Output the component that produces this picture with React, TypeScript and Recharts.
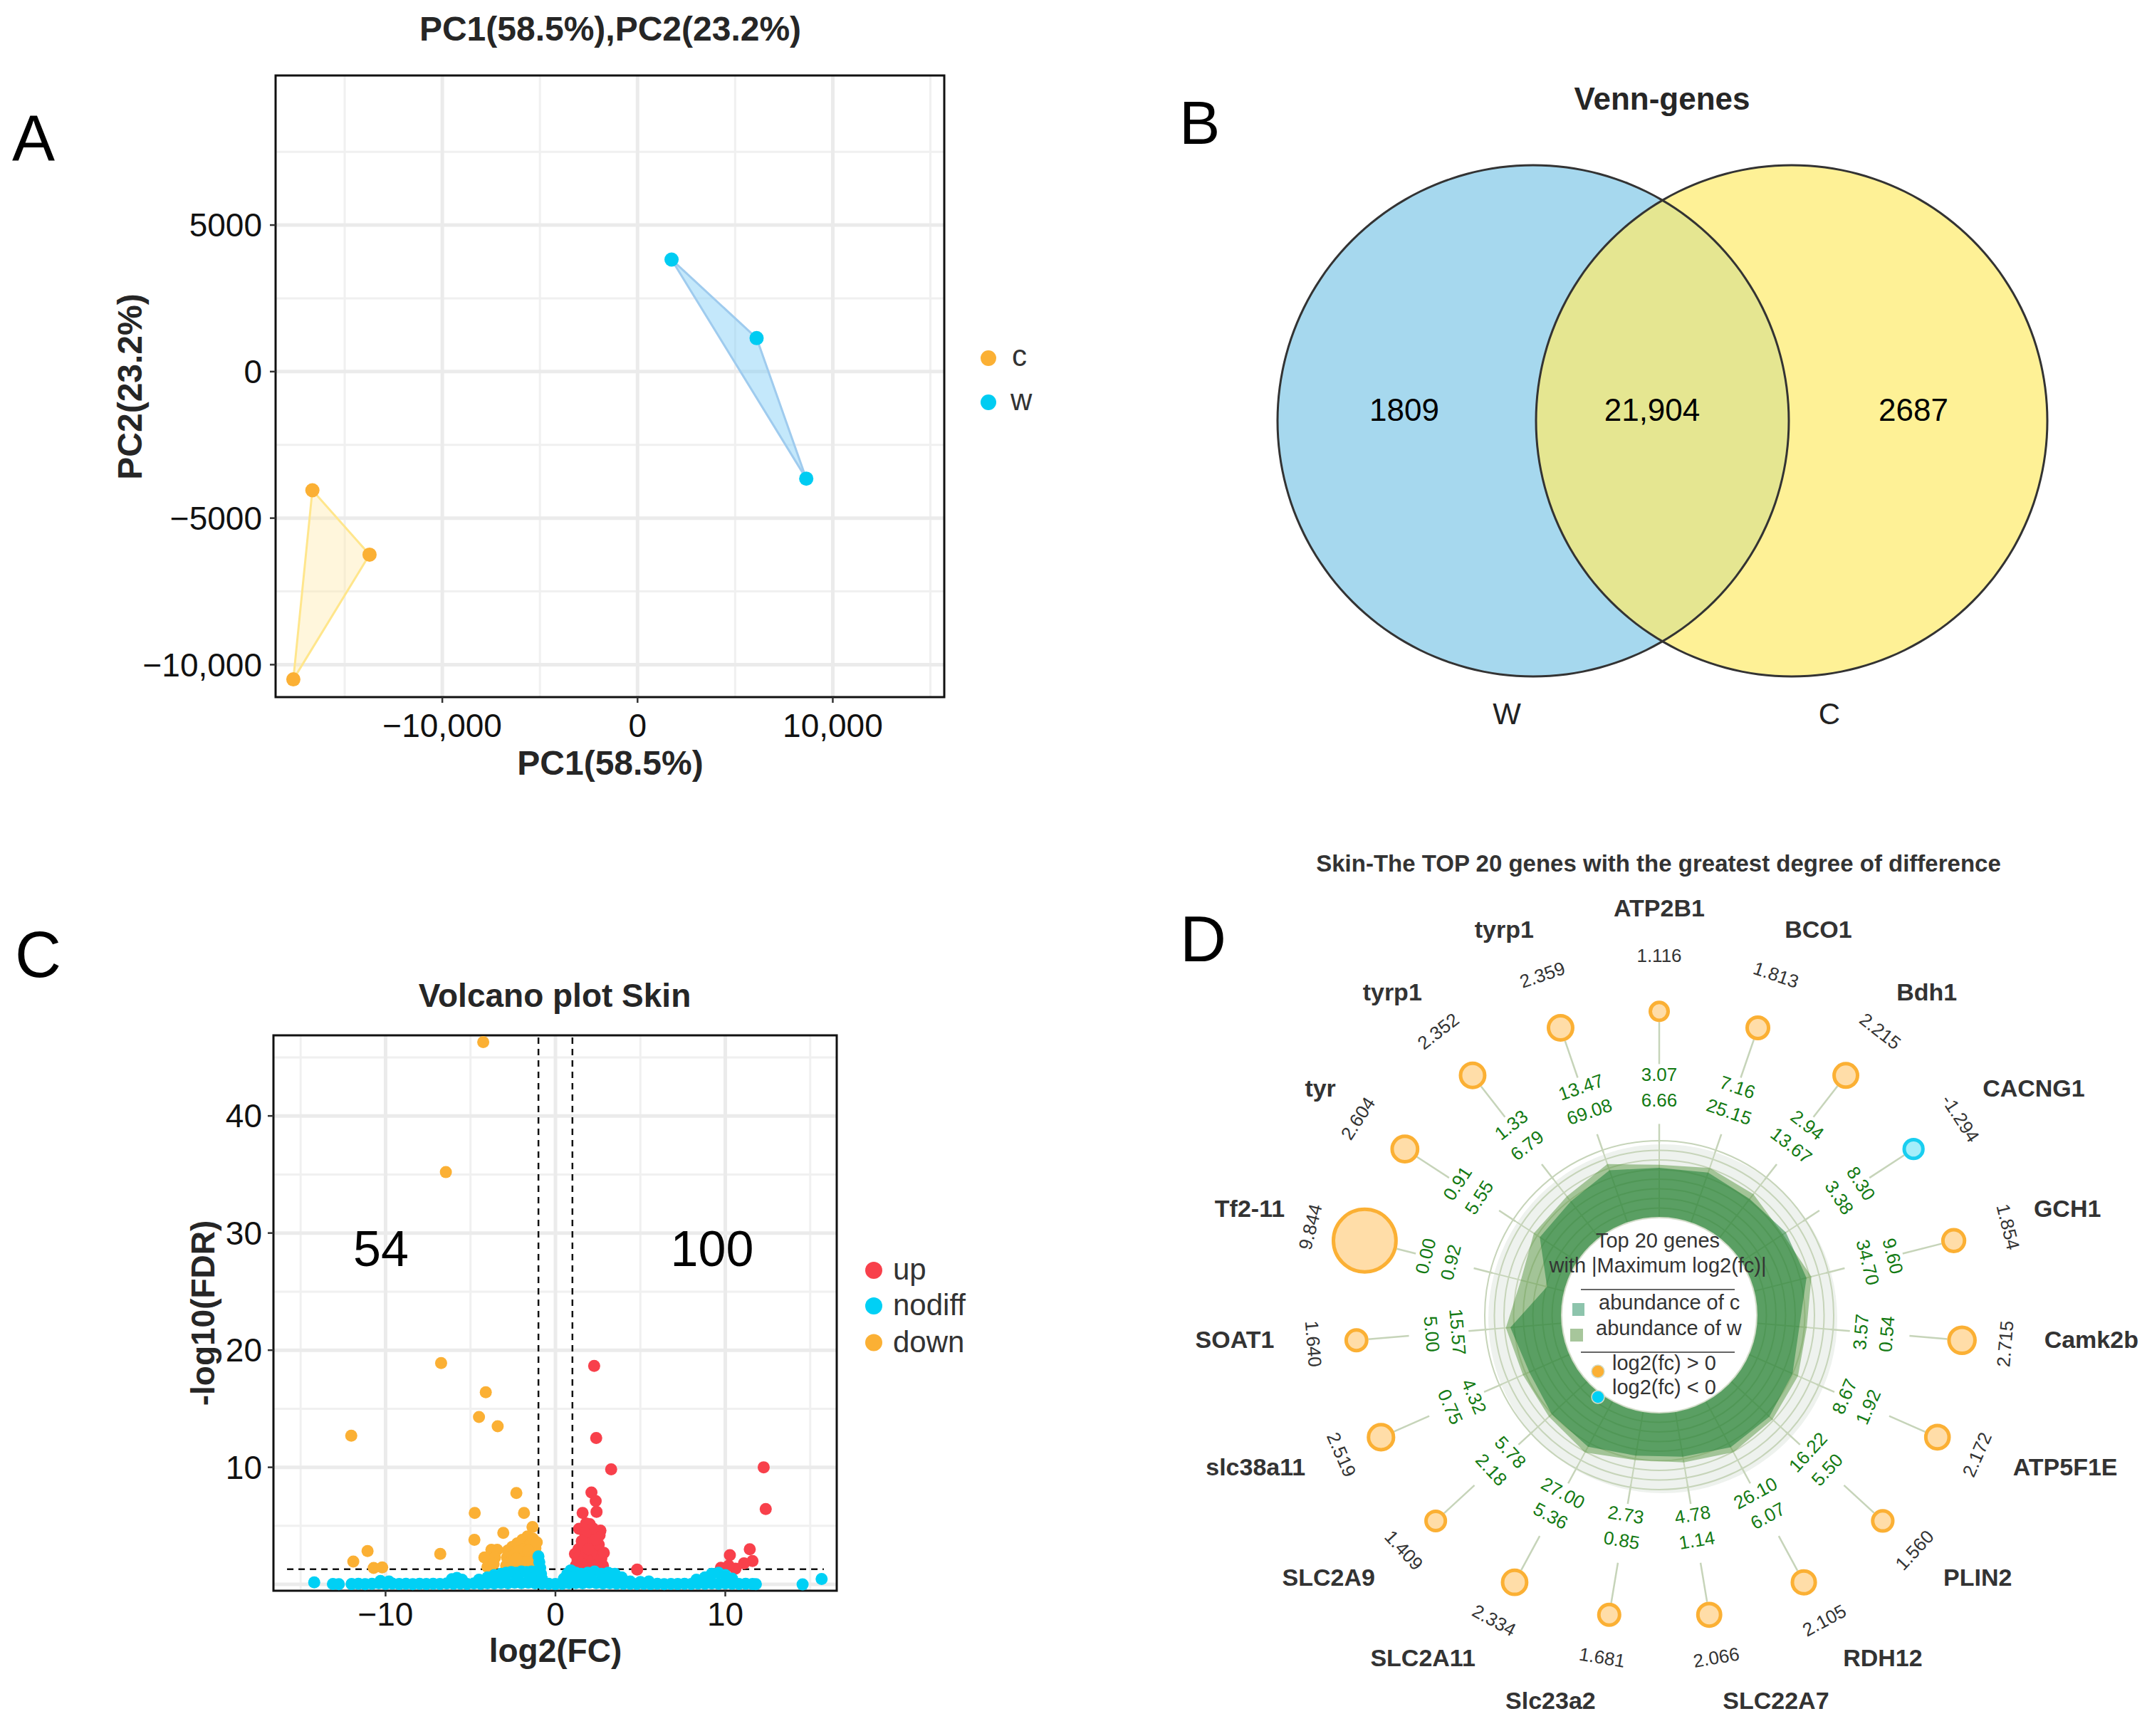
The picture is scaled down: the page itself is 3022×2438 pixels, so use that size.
import React from 'react';
import {
  ScatterChart, Scatter, XAxis, YAxis, CartesianGrid, ReferenceArea, ReferenceLine,
  PieChart, Pie, RadarChart, Radar, PolarGrid, PolarAngleAxis, PolarRadiusAxis,
} from 'recharts';

const FONT = '"Liberation Sans", Arial, Helvetica, sans-serif';
const TXT = '#262626';
const TICK = '#111111';
const ORANGE = '#FBB034';
const CYAN = '#00D0F5';
const RED = '#F8404B';

/* ---------------- Panel A : PCA ---------------- */
const pcaC = [{ x: -16655, y: -4048 }, { x: -13728, y: -6246 }, { x: -17631, y: -10502 }];
const pcaW = [{ x: 1742, y: 3824 }, { x: 6098, y: 1142 }, { x: 8641, y: -3651 }];
const pcaXTicks = [-10000, 0, 10000];
const pcaXTickLabels = ['\u221210,000', '0', '10,000'];
const pcaYTicks = [-10000, -5000, 0, 5000];
const pcaYTickLabels = ['\u221210,000', '\u22125000', '0', '5000'];
const pcaXMinor = [-15000, -5000, 5000, 15000];
const pcaYMinor = [-7500, -2500, 2500, 7500];
const pcaXDomain = [-18540, 15710];
const pcaYDomain = [-11107, 10104];

/* ---------------- Panel B : Venn ---------------- */
const vennSets = ['W', 'C'];
const vennOnly = [1809, 2687];
const vennShared = 21904;

/* ---------------- Panel C : Volcano ---------------- */
const volcanoDown = [
  { x: -4.25, y: 46.3 }, { x: -6.45, y: 35.2 }, { x: -6.73, y: 18.9 }, { x: -4.1, y: 16.4 }, { x: -4.5, y: 14.3 },
  { x: -3.4, y: 13.5 }, { x: -12.02, y: 12.7 }, { x: -2.3, y: 7.8 }, { x: -4.75, y: 6.1 }, { x: -1.85, y: 6.1 },
  { x: -1.35, y: 4.9 }, { x: -3.07, y: 4.4 }, { x: -4.77, y: 3.8 }, { x: -3.77, y: 2.95 }, { x: -3.43, y: 2.95 },
  { x: -4.18, y: 2.3 }, { x: -3.56, y: 2.3 }, { x: -4.0, y: 1.5 }, { x: -6.78, y: 2.6 }, { x: -11.06, y: 2.85 },
  { x: -11.9, y: 1.95 }, { x: -10.7, y: 1.4 }, { x: -10.2, y: 1.45 }, { x: -3.64, y: 1.75 },
  { x: -2.9, y: 1.6 }, { x: -2.85, y: 2.3 }, { x: -2.8, y: 2.9 }, { x: -2.65, y: 1.9 }, { x: -2.55, y: 3.2 },
  { x: -2.45, y: 2.5 }, { x: -2.35, y: 1.7 }, { x: -2.25, y: 3.5 }, { x: -2.15, y: 2.8 }, { x: -2.05, y: 2.1 },
  { x: -1.95, y: 3.8 }, { x: -1.85, y: 3.0 }, { x: -1.75, y: 2.4 }, { x: -1.65, y: 4.1 }, { x: -1.55, y: 1.8 },
  { x: -1.5, y: 3.4 }, { x: -1.42, y: 2.7 }, { x: -1.32, y: 3.9 }, { x: -1.25, y: 2.1 }, { x: -1.18, y: 3.1 },
  { x: -1.12, y: 1.6 }, { x: -1.08, y: 2.5 }, { x: -2.6, y: 1.5 }, { x: -2.0, y: 1.5 }, { x: -1.4, y: 1.5 },
  { x: -1.7, y: 1.9 }, { x: -2.3, y: 2.2 }, { x: -1.1, y: 3.6 }, { x: -1.6, y: 2.9 },
];
const volcanoUp = [
  { x: 2.28, y: 18.66 }, { x: 2.4, y: 12.5 }, { x: 3.28, y: 9.82 }, { x: 12.26, y: 10.0 }, { x: 12.38, y: 6.44 },
  { x: 2.12, y: 7.85 }, { x: 2.37, y: 7.12 }, { x: 2.42, y: 6.2 }, { x: 1.6, y: 6.1 }, { x: 1.39, y: 4.75 },
  { x: 2.02, y: 5.15 }, { x: 2.65, y: 4.6 }, { x: 2.04, y: 4.2 }, { x: 2.6, y: 4.2 }, { x: 2.04, y: 3.6 },
  { x: 1.8, y: 5.2 }, { x: 2.2, y: 4.8 }, { x: 1.75, y: 4.4 },
  { x: 1.15, y: 2.6 }, { x: 1.2, y: 1.6 }, { x: 1.3, y: 2.1 }, { x: 1.35, y: 3.0 }, { x: 1.45, y: 1.4 },
  { x: 1.5, y: 2.5 }, { x: 1.6, y: 1.8 }, { x: 1.65, y: 3.3 }, { x: 1.7, y: 2.2 }, { x: 1.8, y: 1.5 },
  { x: 1.85, y: 2.8 }, { x: 1.95, y: 1.9 }, { x: 2.0, y: 2.5 }, { x: 2.1, y: 3.2 }, { x: 2.15, y: 1.5 },
  { x: 2.25, y: 2.2 }, { x: 2.3, y: 2.9 }, { x: 2.4, y: 1.7 }, { x: 2.5, y: 2.5 }, { x: 2.55, y: 3.4 },
  { x: 2.6, y: 1.9 }, { x: 2.7, y: 2.2 }, { x: 2.8, y: 1.6 }, { x: 2.85, y: 2.7 }, { x: 1.25, y: 1.3 },
  { x: 2.0, y: 1.35 }, { x: 2.65, y: 1.35 }, { x: 1.55, y: 3.7 }, { x: 2.35, y: 3.8 }, { x: 1.95, y: 3.0 },
  { x: 10.27, y: 2.5 }, { x: 11.44, y: 3.0 }, { x: 11.6, y: 2.0 }, { x: 10.6, y: 1.35 }, { x: 9.74, y: 1.42 },
  { x: 4.81, y: 1.27 }, { x: 10.2, y: 1.6 }, { x: 11.1, y: 1.8 },
];
const volcanoNodiff = [
  { x: -14.2, y: 0.17 }, { x: -13.1, y: 0.04 }, { x: -12.75, y: 0.02 },
  { x: -12.0, y: 0.03 }, { x: -11.6, y: 0.06 }, { x: -11.2, y: 0.02 }, { x: -10.8, y: 0.05 }, { x: -10.4, y: 0.1 },
  { x: -10.0, y: 0.04 }, { x: -9.6, y: 0.07 }, { x: -9.2, y: 0.03 }, { x: -8.8, y: 0.05 }, { x: -8.4, y: 0.02 },
  { x: -8.0, y: 0.06 }, { x: -7.6, y: 0.03 }, { x: -7.2, y: 0.05 }, { x: -6.8, y: 0.04 }, { x: -6.4, y: 0.08 },
  { x: -6.0, y: 0.05 }, { x: -5.6, y: 0.07 }, { x: -5.2, y: 0.04 }, { x: -4.8, y: 0.09 }, { x: -4.4, y: 0.06 },
  { x: -4.0, y: 0.1 }, { x: -3.6, y: 0.08 }, { x: -3.2, y: 0.12 }, { x: -2.8, y: 0.1 }, { x: -2.4, y: 0.14 },
  { x: -2.0, y: 0.12 }, { x: -1.6, y: 0.15 }, { x: -1.2, y: 0.1 }, { x: -0.8, y: 0.08 }, { x: -0.4, y: 0.05 },
  { x: 0.0, y: 0.03 }, { x: 0.4, y: 0.06 }, { x: 0.8, y: 0.1 }, { x: 1.2, y: 0.12 }, { x: 1.6, y: 0.1 },
  { x: 2.0, y: 0.14 }, { x: 2.4, y: 0.11 }, { x: 2.8, y: 0.09 }, { x: 3.2, y: 0.1 }, { x: 3.6, y: 0.07 },
  { x: 4.0, y: 0.06 }, { x: 4.4, y: 0.05 }, { x: 4.8, y: 0.04 }, { x: 5.2, y: 0.06 }, { x: 5.6, y: 0.03 },
  { x: 6.0, y: 0.05 }, { x: 6.4, y: 0.02 }, { x: 6.8, y: 0.04 }, { x: 7.2, y: 0.03 }, { x: 7.6, y: 0.05 },
  { x: 8.0, y: 0.04 }, { x: 8.4, y: 0.07 }, { x: 8.8, y: 0.05 }, { x: 9.2, y: 0.08 }, { x: 9.6, y: 0.06 },
  { x: 10.0, y: 0.09 }, { x: 10.4, y: 0.05 }, { x: 10.8, y: 0.04 }, { x: 11.2, y: 0.06 }, { x: 11.6, y: 0.03 },
  { x: 11.8, y: 0.02 }, { x: 14.55, y: 0.0 }, { x: 15.67, y: 0.46 },
  { x: -10.3, y: 0.3 }, { x: -9.8, y: 0.25 }, { x: -6.1, y: 0.45 }, { x: -5.8, y: 0.55 }, { x: -5.5, y: 0.4 },
  { x: -4.5, y: 0.4 }, { x: -4.0, y: 0.6 }, { x: -3.6, y: 0.8 }, { x: -3.2, y: 0.9 }, { x: -2.9, y: 1.0 },
  { x: -2.6, y: 1.05 }, { x: -2.3, y: 1.0 }, { x: -2.0, y: 1.1 }, { x: -1.7, y: 1.05 }, { x: -1.4, y: 1.1 },
  { x: -1.15, y: 1.0 }, { x: -3.0, y: 0.5 }, { x: -2.2, y: 0.5 }, { x: -1.5, y: 0.5 }, { x: -1.0, y: 2.4 },
  { x: -0.95, y: 1.9 }, { x: -0.9, y: 1.4 }, { x: -0.85, y: 0.9 }, { x: -0.8, y: 0.5 }, { x: 0.5, y: 0.5 },
  { x: 0.7, y: 0.9 }, { x: 0.9, y: 1.2 }, { x: 1.2, y: 1.0 }, { x: 1.5, y: 0.9 }, { x: 1.9, y: 1.0 },
  { x: 2.3, y: 1.1 }, { x: 2.7, y: 0.9 }, { x: 3.1, y: 1.0 }, { x: 3.5, y: 0.9 }, { x: 3.9, y: 0.6 },
  { x: 1.0, y: 0.6 }, { x: 2.0, y: 0.5 }, { x: 3.0, y: 0.5 }, { x: 4.4, y: 0.25 }, { x: 5.0, y: 0.2 },
  { x: 5.5, y: 0.25 }, { x: 8.3, y: 0.4 }, { x: 8.8, y: 0.6 }, { x: 9.2, y: 0.9 }, { x: 9.6, y: 1.0 },
  { x: 10.0, y: 0.8 }, { x: 10.4, y: 0.5 },
];
const volcanoCounts = { down: 54, up: 100 };
const volcanoLegend = ['up', 'nodiff', 'down'];
const volXTicks = [-10, 0, 10];
const volXTickLabels = ['\u221210', '0', '10'];
const volYTicks = [10, 20, 30, 40];
const volYMajor = [0, 10, 20, 30, 40];
const volXMinor = [-15, -5, 5, 15];
const volYMinor = [5, 15, 25, 35, 45];
const volXDomain = [-16.6, 16.56];
const volYDomain = [-0.54, 46.88];
const fcCut = 1;
const fdrCut = 1.3;

/* ---------------- Panel D : radial top-20 ---------------- */
const genes = ['ATP2B1', 'BCO1', 'Bdh1', 'CACNG1', 'GCH1', 'Camk2b', 'ATP5F1E', 'PLIN2', 'RDH12', 'SLC22A7',
  'Slc23a2', 'SLC2A11', 'SLC2A9', 'slc38a11', 'SOAT1', 'Tf2-11', 'tyr', 'tyrp1', 'tyrp1'];
const abundC = [3.07, 7.16, 2.94, 8.30, 9.60, 0.54, 1.92, 5.50, 6.07, 1.14, 0.85, 5.36, 2.18, 0.75, 5.00, 0.00, 0.91, 1.33, 13.47];
const abundW = [6.66, 25.15, 13.67, 3.38, 34.70, 3.57, 8.67, 16.22, 26.10, 4.78, 2.73, 27.00, 5.78, 4.32, 15.57, 0.92, 5.55, 6.79, 69.08];
const log2fc = [1.116, 1.813, 2.215, -1.294, 1.854, 2.715, 2.172, 1.560, 2.105, 2.066, 1.681, 2.334, 1.409, 2.519, 1.640, 9.844, 2.604, 2.352, 2.359];

// radial layout (pixels from centre)
const R_IN = 137;
const R_OUT = 245;
const RAD_DOMAIN = [-4.846, 3.462]; // log10(abundance + eps) axis
const LOG_EPS = 0.001;
const RING_W = 294;
const RING_C = 331;
const RING_DOT = 430;
const RING_FC = 501;
const RING_GENE = 548;
const ringValue = (px: number) => RAD_DOMAIN[0] + ((px - R_IN) / (R_OUT - R_IN)) * (RAD_DOMAIN[1] - RAD_DOMAIN[0]);

const radarData = genes.map((g, i) => ({
  key: `g${i}`,
  gene: g,
  c: abundC[i],
  w: abundW[i],
  fc: log2fc[i],
  cPlot: Math.log10(abundC[i] + LOG_EPS),
  wPlot: Math.log10(abundW[i] + LOG_EPS),
  ringW: ringValue(RING_W),
  ringC: ringValue(RING_C),
  ringDot: ringValue(RING_DOT),
  ringFC: ringValue(RING_FC),
  ringGene: ringValue(RING_GENE),
}));

const N = genes.length;
const GRID = '#C6D4B9';
const GREEN_TXT = '#137A13';

function polarInfo(props: any) {
  const idx = typeof props.index === 'number' ? props.index : 0;
  const pt = props.payload || {};
  const a = typeof pt.angle === 'number' ? pt.angle : 90 - (idx * 360) / N;
  const rad = (a * Math.PI) / 180;
  const dx = Math.cos(rad);
  const dy = -Math.sin(rad);
  const theta = (((90 - a) % 360) + 360) % 360;
  const rot = theta > 90 && theta < 270 ? theta - 180 : theta >= 270 ? theta - 360 : theta;
  return { idx, dx, dy, rot, datum: radarData[idx] };
}

const renderRingText = (field: 'w' | 'c' | 'fc') => (props: any) => {
  const { idx, rot, datum } = polarInfo(props);
  const { cx, cy } = props;
  const isFc = field === 'fc';
  const txt = isFc ? datum.fc.toFixed(3) : (datum as any)[field].toFixed(2);
  return (
    <text key={`${field}-${idx}`} x={cx} y={cy} transform={`rotate(${rot} ${cx} ${cy})`} textAnchor="middle"
      fontSize={26} fontFamily={FONT} fill={isFc ? '#333333' : GREEN_TXT}>{txt}</text>
  );
};

const renderGene = (props: any) => {
  const { idx, dx, dy, datum } = polarInfo(props);
  const { cx, cy } = props;
  const anchor = dx > 0.05 ? 'start' : dx < -0.05 ? 'end' : 'middle';
  return (
    <text key={`gene-${idx}`} x={cx} y={cy + 18 * dy} textAnchor={anchor} fontSize={34} fontWeight="bold"
      fontFamily={FONT} fill="#333333">{datum.gene}</text>
  );
};

const renderStemDot = (props: any) => {
  const { idx, dx, dy, datum } = polarInfo(props);
  const { cx, cy } = props;
  const v = Math.abs(datum.fc);
  const rr = 8.5 + 3.6 * v;
  const outer = rr + 2.5;
  const pos = datum.fc >= 0;
  const at = (r: number) => [cx - dx * (RING_DOT - r), cy - dy * (RING_DOT - r)];
  const [a1x, a1y] = at(R_OUT);
  const [a2x, a2y] = at(272);
  const [b1x, b1y] = at(356);
  const [b2x, b2y] = at(RING_DOT - outer);
  return (
    <g key={`dot-${idx}`}>
      <line x1={a1x} y1={a1y} x2={a2x} y2={a2y} stroke={GRID} strokeWidth={2.5} />
      <line x1={b1x} y1={b1y} x2={b2x} y2={b2y} stroke={GRID} strokeWidth={2.5} />
      <circle cx={cx} cy={cy} r={rr} fill={pos ? '#FFDDA8' : '#A5EEFA'} stroke={pos ? ORANGE : '#19CEF0'} strokeWidth={5} />
    </g>
  );
};

const makeDot = (fill: string, r: number) => (p: any) => <circle cx={p.cx} cy={p.cy} r={r} fill={fill} />;
const fmt = (ticks: number[], labels: string[]) => (v: number) => {
  const i = ticks.indexOf(v);
  return i >= 0 ? labels[i] : String(v);
};
const tickStyle = { fontSize: 46, fill: TICK, fontFamily: FONT };

function PanelA() {
  return (
    <div style={{ position: 'absolute', left: 0, top: 0 }}>
      <ScatterChart width={1500} height={1120} margin={{ top: 106, right: 174, bottom: 81, left: 267 }}>
        <CartesianGrid stroke="#F0F0F0" strokeWidth={3} horizontalValues={pcaYMinor} verticalValues={pcaXMinor} />
        <CartesianGrid stroke="#EBEBEB" strokeWidth={5} horizontalValues={pcaYTicks} verticalValues={pcaXTicks} />
        <XAxis type="number" dataKey="x" domain={pcaXDomain} allowDataOverflow ticks={pcaXTicks} interval={0}
          tickFormatter={fmt(pcaXTicks, pcaXTickLabels)} height={60} axisLine={false}
          tickLine={{ stroke: '#333', strokeWidth: 2.5 }} tickSize={8} tickMargin={15} tick={tickStyle} />
        <YAxis type="number" dataKey="y" domain={pcaYDomain} allowDataOverflow ticks={pcaYTicks} interval={0}
          tickFormatter={fmt(pcaYTicks, pcaYTickLabels)} width={120} axisLine={false}
          tickLine={{ stroke: '#333', strokeWidth: 2.5 }} tickSize={8} tickMargin={11} tick={tickStyle} />
        <Scatter data={pcaC} shape={makeDot(ORANGE, 10)} isAnimationActive={false} lineType="joint"
          lineJointType="linearClosed" line={{ stroke: '#FFE68C', strokeWidth: 3, fill: '#FFE9A8', fillOpacity: 0.4 }} />
        <Scatter data={pcaW} shape={makeDot('#00CCF2', 10)} isAnimationActive={false} lineType="joint"
          lineJointType="linearClosed" line={{ stroke: '#9FCBEE', strokeWidth: 3, fill: '#7CCDF6', fillOpacity: 0.45 }} />
        <ReferenceArea x1={pcaXDomain[0]} x2={pcaXDomain[1]} y1={pcaYDomain[0]} y2={pcaYDomain[1]}
          fill="none" stroke="#111" strokeWidth={3} ifOverflow="visible" />
      </ScatterChart>
    </div>
  );
}

function PanelB() {
  const one = [{ name: 'set', value: 1 }];
  return (
    <div style={{ position: 'absolute', left: 1640, top: 90 }}>
      <PieChart width={1382} height={950}>
        <Pie data={[{ name: vennSets[0], value: vennOnly[0] + vennShared }]} dataKey="value" cx={508} cy={496}
          outerRadius={359} innerRadius={0} fill="#A6D8EE" stroke="none" isAnimationActive={false} />
        <Pie data={[{ name: vennSets[1], value: vennOnly[1] + vennShared }]} dataKey="value" cx={871} cy={496}
          outerRadius={359} innerRadius={0} fill="#FEEB6D" fillOpacity={0.72} stroke="none" isAnimationActive={false} />
        <Pie data={one} dataKey="value" cx={508} cy={496} outerRadius={360.5} innerRadius={357.5}
          fill="#333" stroke="none" isAnimationActive={false} />
        <Pie data={one} dataKey="value" cx={871} cy={496} outerRadius={360.5} innerRadius={357.5}
          fill="#333" stroke="none" isAnimationActive={false} />
      </PieChart>
    </div>
  );
}

function PanelC() {
  const dash = { stroke: '#111', strokeWidth: 2.5, strokeDasharray: '9 7' };
  return (
    <div style={{ position: 'absolute', left: 0, top: 1300 }}>
      <ScatterChart width={1500} height={1100} margin={{ top: 154, right: 325, bottom: 106, left: 264 }}>
        <CartesianGrid stroke="#F0F0F0" strokeWidth={3} horizontalValues={volYMinor} verticalValues={volXMinor} />
        <CartesianGrid stroke="#EBEBEB" strokeWidth={5} horizontalValues={volYMajor} verticalValues={volXTicks} />
        <XAxis type="number" dataKey="x" domain={volXDomain} allowDataOverflow ticks={volXTicks} interval={0}
          tickFormatter={fmt(volXTicks, volXTickLabels)} height={60} axisLine={false}
          tickLine={{ stroke: '#333', strokeWidth: 2.5 }} tickSize={8} tickMargin={8} tick={tickStyle} />
        <YAxis type="number" dataKey="y" domain={volYDomain} allowDataOverflow ticks={volYTicks} interval={0}
          width={120} axisLine={false} tickLine={{ stroke: '#333', strokeWidth: 2.5 }} tickSize={8} tickMargin={8}
          tick={tickStyle} />
        <Scatter data={volcanoDown} shape={makeDot(ORANGE, 8.5)} isAnimationActive={false} />
        <Scatter data={volcanoUp} shape={makeDot(RED, 8.5)} isAnimationActive={false} />
        <Scatter data={volcanoNodiff} shape={makeDot(CYAN, 8.5)} isAnimationActive={false} />
        <ReferenceLine x={-fcCut} {...dash} />
        <ReferenceLine x={fcCut} {...dash} />
        <ReferenceLine segment={[{ x: -15.8, y: fdrCut }, { x: 15.8, y: fdrCut }]} {...dash} />
        <ReferenceArea x1={volXDomain[0]} x2={volXDomain[1]} y1={volYDomain[0]} y2={volYDomain[1]}
          fill="none" stroke="#111" strokeWidth={3} ifOverflow="visible" />
      </ScatterChart>
    </div>
  );
}

const D_LEFT = 1600;
const D_TOP = 1180;
const D_W = 1422;
const D_H = 1258;
const D_CX = 730;
const D_CY = 667;

function PanelDBack() {
  return (
    <div style={{ position: 'absolute', left: D_LEFT, top: D_TOP }}>
      <PieChart width={D_W} height={D_H}>
        <Pie data={[{ name: 'bg', value: 1 }]} dataKey="value" cx={D_CX} cy={D_CY} outerRadius={R_OUT} innerRadius={0}
          fill="#EEF2EE" stroke="none" isAnimationActive={false} />
      </PieChart>
    </div>
  );
}

function PanelD() {
  const none = { fill: 'none', stroke: 'none', isAnimationActive: false } as any;
  return (
    <div style={{ position: 'absolute', left: D_LEFT, top: D_TOP }}>
      <RadarChart width={D_W} height={D_H} data={radarData} cx={D_CX} cy={D_CY} innerRadius={R_IN} outerRadius={R_OUT}
        margin={{ top: 0, right: 0, bottom: 0, left: 0 }}>
        <PolarGrid gridType="circle" stroke={GRID} strokeWidth={2}
          polarRadius={[137, 150.5, 164, 177.5, 191, 204.5, 218, 231.5, 245]} />
        <PolarAngleAxis dataKey="key" tick={false} axisLine={false} tickLine={false} />
        <PolarRadiusAxis type="number" domain={RAD_DOMAIN} allowDataOverflow tick={false} axisLine={false} />
        <Radar dataKey="wPlot" fill="#589540" fillOpacity={0.5} stroke="none" isAnimationActive={false} />
        <Radar dataKey="cPlot" fill="#117A2F" fillOpacity={0.5} stroke="none" isAnimationActive={false} />
        <Radar dataKey="ringDot" {...none} dot={renderStemDot} />
        <Radar dataKey="ringW" {...none} dot={renderRingText('w')} />
        <Radar dataKey="ringC" {...none} dot={renderRingText('c')} />
        <Radar dataKey="ringFC" {...none} dot={renderRingText('fc')} />
        <Radar dataKey="ringGene" {...none} dot={renderGene} />
      </RadarChart>
    </div>
  );
}

function Overlay() {
  const cxD = D_LEFT + D_CX;
  const cyD = D_TOP + D_CY;
  const legendY = [1784, 1834, 1885.5];
  const legendCol = [RED, CYAN, ORANGE];
  return (
    <svg width={3022} height={2438} style={{ position: 'absolute', left: 0, top: 0, pointerEvents: 'none' }}
      fontFamily={FONT}>
      {/* Panel letters */}
      <text x={17} y={225} fontSize={90} fill="#000">A</text>
      <text x={1656} y={202} fontSize={86} fill="#000">B</text>
      <text x={21} y={1372} fontSize={90} fill="#000">C</text>
      <text x={1657} y={1350} fontSize={90} fill="#000">D</text>

      {/* Panel A texts */}
      <text x={857} y={57} fontSize={48} fontWeight="bold" textAnchor="middle" fill={TXT}>PC1(58.5%),PC2(23.2%)</text>
      <text transform="translate(199,543) rotate(-90)" fontSize={48} fontWeight="bold" textAnchor="middle" fill={TXT}>PC2(23.2%)</text>
      <text x={857} y={1088} fontSize={48} fontWeight="bold" textAnchor="middle" fill={TXT}>PC1(58.5%)</text>
      <circle cx={1388} cy={503} r={11} fill={ORANGE} />
      <circle cx={1388} cy={565} r={11} fill="#00CCF2" />
      <text x={1421} y={514} fontSize={42} fill="#333">c</text>
      <text x={1419} y={576} fontSize={42} fill="#333">w</text>

      {/* Panel B texts */}
      <text x={2334} y={154} fontSize={44} fontWeight="bold" textAnchor="middle" fill={TXT}>Venn-genes</text>
      <text x={1972} y={591} fontSize={44} textAnchor="middle" fill="#000">{String(vennOnly[0])}</text>
      <text x={2320} y={591} fontSize={44} textAnchor="middle" fill="#000">{vennShared.toLocaleString('en-US')}</text>
      <text x={2687} y={591} fontSize={44} textAnchor="middle" fill="#000">{String(vennOnly[1])}</text>
      <text x={2116} y={1017} fontSize={42} textAnchor="middle" fill="#222">{vennSets[0]}</text>
      <text x={2569} y={1017} fontSize={42} textAnchor="middle" fill="#222">{vennSets[1]}</text>

      {/* Panel C texts */}
      <text x={779} y={1414} fontSize={46} fontWeight="bold" textAnchor="middle" fill={TXT}>Volcano plot Skin</text>
      <text transform="translate(301,1844) rotate(-90)" fontSize={46} fontWeight="bold" textAnchor="middle" fill={TXT}>-log10(FDR)</text>
      <text x={780} y={2334} fontSize={46} fontWeight="bold" textAnchor="middle" fill={TXT}>log2(FC)</text>
      <text x={535} y={1778} fontSize={70} textAnchor="middle" fill="#000">{volcanoCounts.down}</text>
      <text x={1000} y={1778} fontSize={70} textAnchor="middle" fill="#000">{volcanoCounts.up}</text>
      {volcanoLegend.map((l, i) => (
        <g key={l}>
          <circle cx={1227} cy={legendY[i]} r={12} fill={legendCol[i]} />
          <text x={1254} y={legendY[i] + 13} fontSize={42} fill="#333">{l}</text>
        </g>
      ))}

      {/* Panel D texts */}
      <text x={2329} y={1224} fontSize={33} fontWeight="bold" textAnchor="middle" fill="#333">Skin-The TOP 20 genes with the greatest degree of difference</text>
      <circle cx={cxD} cy={cyD} r={R_IN} fill="#fff" stroke="#D3DDCA" strokeWidth={2} />
      <text x={2328} y={1752} fontSize={29} textAnchor="middle" fill="#333">Top 20 genes</text>
      <text x={2328} y={1787} fontSize={29} textAnchor="middle" fill="#333">with |Maximum log2(fc)|</text>
      <line x1={2220} y1={1811} x2={2436} y2={1811} stroke="#333" strokeWidth={1.6} />
      <rect x={2208} y={1830} width={17} height={18} fill="#8DC4AC" />
      <text x={2245} y={1839} fontSize={29} fill="#333">abundance of c</text>
      <rect x={2205} y={1866} width={18} height={18} fill="#A7C69B" />
      <text x={2241} y={1875} fontSize={29} fill="#333">abundance of w</text>
      <line x1={2220} y1={1899} x2={2436} y2={1899} stroke="#333" strokeWidth={1.6} />
      <circle cx={2244} cy={1926} r={9} fill={ORANGE} stroke="#D2DCC8" strokeWidth={1.5} />
      <text x={2264} y={1924} fontSize={29} fill="#333">log2(fc) &gt; 0</text>
      <circle cx={2244} cy={1962} r={9} fill={CYAN} stroke="#D2DCC8" strokeWidth={1.5} />
      <text x={2264} y={1958} fontSize={29} fill="#333">log2(fc) &lt; 0</text>
    </svg>
  );
}

export default function App() {
  return (
    <div style={{ position: 'absolute', left: 0, top: 0, width: 3022, height: 2438, background: '#fff', overflow: 'hidden', fontFamily: FONT }}>
      <PanelA />
      <PanelB />
      <PanelC />
      <PanelDBack />
      <PanelD />
      <Overlay />
    </div>
  );
}
